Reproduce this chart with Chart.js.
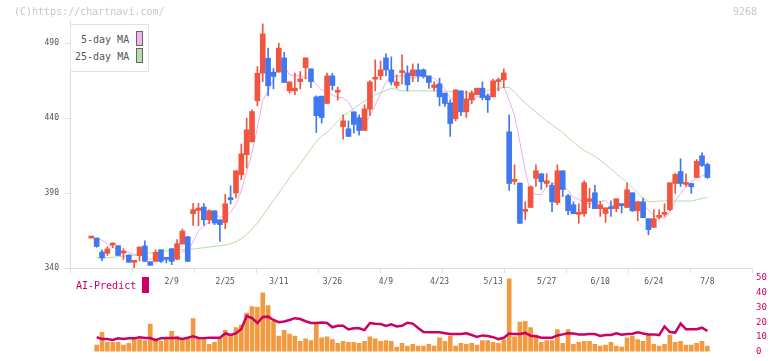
<!DOCTYPE html>
<html>
<head>
<meta charset="utf-8">
<script src="https://cdn.jsdelivr.net/npm/chart.js@4.4.1/dist/chart.umd.min.js"></script>
<style>
html, body { margin: 0; padding: 0; background: #fff; }
#wrap { position: relative; width: 772px; height: 361px; overflow: hidden; font-family: "DejaVu Sans Mono", monospace; }
#wrap canvas { position: absolute; left: 0; top: 0; }
.txt { position: absolute; white-space: nowrap; line-height: 12px; }
.sw { position: absolute; box-sizing: border-box; }
</style>
</head>
<body>
<div id="wrap">
  <canvas id="volChart" width="772" height="361"></canvas>
  <canvas id="mainChart" width="772" height="361"></canvas>
  <div class="txt" style="left:14px;top:6px;font-size:10px;color:#c8c8c8">(C)https://chartnavi.com/</div>
  <div class="txt" style="left:733px;top:6px;font-size:10px;color:#c8c8c8">9268</div>
  <div style="position:absolute;left:70px;top:24px;width:77px;height:46px;border:1px solid #e2e2e2;background:#fff"></div>
  <div class="txt" style="left:81px;top:34px;font-size:10px;color:#555">5-day MA</div>
  <div class="txt" style="left:75px;top:51px;font-size:10px;color:#555">25-day MA</div>
  <div class="sw" style="left:136px;top:31px;width:7px;height:15px;border:1px solid #666;background:#ecb8ec"></div>
  <div class="sw" style="left:136px;top:48px;width:7px;height:15px;border:1px solid #666;background:#bcdcae"></div>
  <div class="txt" style="left:76px;top:280px;font-size:10px;color:#cc0066">AI-Predict</div>
  <div class="sw" style="left:142px;top:277px;width:7px;height:16px;background:#cc0066"></div>
</div>
<script>
// candles, index 0 = first day on the chart
const opens = [360,360,350.7,349.8,355.3,354.9,350,348.7,343.8,348.2,354.7,344.2,344.4,352.2,346.9,352.9,345.8,356,360.9,376.2,
  378.4,380.7,372.2,378.2,372.2,370.4,386.7,390,402.2,415.6,424.2,451.6,470,480,470.7,470.7,480.2,458.2,458.2,464.4,
  473.6,472.9,454.2,454.7,449.8,468.2,457.3,434.2,432.9,444.2,440.2,431.8,446,466,468.2,480.2,472.2,461.8,470.4,470.2,
  468.2,472.2,472.2,468.2,460.4,462.9,456.7,450.2,439.6,458.2,444.2,452.2,455.6,460,454.9,454.2,464.4,465.6,430.9,397.8,
  396.7,377.8,380.4,399.8,402.9,396.4,395.1,383.6,404.9,388.2,382.2,375.8,376.2,384.4,390.2,379.6,376.4,380.9,379.6,382.9,
  380.4,390.2,378.2,384.2,372.9,367.1,373.8,375.8,378.9,396.4,404.4,395.8,396.4,400.4,414.9,409.1];
const highs = [360,360,352.2,354.2,356.7,354.9,352.9,348.7,344.9,354,358.2,344.2,352.2,352.2,346.9,352.9,358.9,366,360.9,383.1,
  383.1,383.1,378.9,378.2,372.2,389.1,394.9,404.9,422.7,440,445.6,474.4,502.9,486.7,473.1,490,484,464.2,470,471.1,
  480.2,472.9,454.9,454.7,470,470,460.7,442.2,438.2,444.2,442.2,448.9,465.1,478.9,478.2,482.9,480.9,468.9,482.2,474.9,
  476.2,476.2,472.9,468.2,464.2,466.7,456.7,452.2,458.9,458.2,458.2,458.2,460,464.2,456.2,466,466.7,472.9,442,408.9,
  396.7,384.2,394.9,408.9,402.9,402.9,396.9,408.9,404.9,389.1,384.2,382.9,398.2,393.1,395.1,384.4,380.2,384.9,386.2,382.9,
  396.9,390.2,384.2,386.7,372.9,378.9,378.9,382.9,396.9,403.1,412.9,402.9,396.4,412.4,416.9,410];
const lows = [360,353.8,344.7,348.4,353.6,348.2,345.6,343.8,339.8,344.7,344.4,341.8,344.4,343.8,343.3,342.2,345.6,356,344.4,368.4,
  368.2,368.4,369.6,368.9,357.8,366.2,382.7,386.7,398.9,406.7,424.2,448.2,464.4,454.9,459.6,470.7,463.8,456.7,455.6,459.6,
  466.2,460.4,430.4,436.7,449.8,458.7,452,426,427.8,430,428.7,431.8,441.8,458.2,465.6,468.2,462.2,460,462.7,458.2,
  464.4,464.4,466.7,459.8,458.2,448.2,447.8,427.8,438.2,441.6,440.4,449.8,455.6,452.2,443.8,454.2,458.2,460.4,391.8,395.8,
  369.8,372.2,380.4,394.4,392.4,394,377.6,382.2,387.6,375.6,376.2,369.8,374.4,380.2,379.6,374.4,370.4,374.4,377.6,376.7,
  380.4,377.6,371.6,373.6,362.2,367.1,372.7,374.4,378.2,389.8,394.4,394.4,389.8,400.4,407.8,399.8];
const closes = [360.3,354.4,346.7,352.7,356.7,348.4,351.1,343.8,344.9,354,344.4,341.8,350.4,344.4,345.8,344.4,356.2,364.7,344.4,378.9,
  380,372.2,378.2,370,368.9,382.9,385.6,404.9,416.2,432.2,444.4,470,496.2,461.6,467.8,486.7,463.8,464.2,460,466.2,
  480.2,464.4,441.6,440.4,468.2,461.8,458.2,438.2,427.8,435.8,431.8,446.2,464.2,466.4,472.2,472.2,464.2,464.2,470.9,462.2,
  472.2,468.2,467.8,463.8,462.2,454.2,449.8,436.4,458.9,444.2,452.9,456.7,460,453.8,452.2,464.9,465.1,470.2,396.4,398.7,
  369.8,378.2,394.2,404.9,397.6,398.2,384.2,404.9,392.4,378.2,376.2,376.9,396.9,386.2,379.6,382.2,380.2,379.6,386.2,381.6,
  392.2,378.2,384.2,373.6,365.6,372.9,375.1,376.9,396.9,402.4,396.4,396.9,394.2,411.1,408.4,400.4];

// moving averages
const ma5 = [null,360,358.5,356,354,351.8,351.1,350.5,349,348.4,347.6,345.8,347.1,347,345.4,345.4,348.2,351.1,351.1,357.7,
  364.8,368,370.7,375.9,373.9,374.4,377.1,382.5,391.7,404.4,416.7,433.5,451.8,458,466,475,475.2,468.8,468.5,468.2,
  466.9,467,462.5,458.6,459,455.3,454,453.4,450.8,444.4,438.4,436,441.2,448.9,456.2,464.2,467.8,467.8,468.7,466.7,
  466.7,467.5,468.3,466.8,466.8,463.2,459.6,453.3,452.3,448.7,448.4,449.8,454.5,453.5,455.1,457.5,459.2,461.2,452,442,
  424,405,390,389.2,388.9,394.6,395.8,398,395.5,391.6,387.2,385.7,384.1,382.9,383.2,384.4,385,381.6,381.6,382,
  384,383.6,384.5,382,378.8,374.9,374.3,372.8,377.5,384.8,389.5,393.9,397.4,400.2,401.4,402.2];
const ma25 = [null,346.7,346.8,347,347.2,347.5,347.8,348.1,348.5,349,349.5,350,350.5,351,351.4,351.8,352,352.2,352.4,352.7,
  353.1,353.5,354,354.4,354.9,355.4,356.2,357.5,359.5,362.5,366,370,375,380,385,390,395,400.5,405,409.5,
  414.5,419.5,424.5,428,430.5,434,438,441.5,444,446.5,449,451.5,453.5,455.5,457,458.5,460,459,458.3,458.2,
  458.2,458.2,458.2,458.2,458.2,458.2,458,457.8,457.3,457,457,457,457.3,457.8,458.5,459.3,460,460.5,460.5,457.5,
  453.5,450,447,444,441,438,435.5,433,430.5,427,424,421,418.5,416.5,414.5,412,409,406,403,400,
  397,393.5,390,386.5,384.3,384.3,384.7,384.7,384.7,384.7,384.7,384.7,384.7,385.5,386.5,387];

// lower panel
const volume = [null,4.4,13.1,6.25,6.25,6.25,4.4,5.6,8.75,8.1,7.5,18.75,8.75,6.9,8.75,13.75,10.6,8.1,8.75,22.5,
  8.75,8.1,5,6.25,9.4,14.4,11.25,16.25,18.1,26.25,30.6,30,40,31.25,20.6,10.6,14.4,11.9,10.6,6.9,
  8.75,7.5,18.75,9.4,10,8.1,5.6,6.9,6.25,6.25,5.6,6.9,10,8.75,6.9,7.5,6.9,3.1,5.6,3.75,
  5,3.75,3.75,5,3.75,9.4,6.9,10.6,3.75,5.6,5,5.6,4.4,7.5,7.5,6.25,5.6,8.1,49.4,10,
  20,20.6,16.25,11.25,6.25,7.5,7.5,15,5.6,15,5,6.25,6.9,6.9,5,3.75,4.4,6.25,3.75,3.1,
  9.4,10.6,8.1,6.9,11.25,5,3.75,5,11.25,6.25,6.9,4.4,4.4,5.6,6.9,3.75];
const aiPredict = [null,9.8,8.5,8.5,7.9,9,8.5,9,9,9.8,9.2,9.2,7.7,9,9.2,9.2,9.2,8.5,9.4,10.4,
  9.2,9,9.4,9.4,9.4,12.3,11.25,12.3,15.4,24.2,22.7,19.4,23.5,23.75,21.5,20,20.4,21.5,22.7,22.1,
  20.6,19.4,19.4,19.8,19.4,16.5,17.5,17.5,15,15.8,15.8,14.6,19.4,19,18.7,17.5,18.5,17.1,17.5,19.6,
  19,16,13.3,13.1,13.1,13.1,12.5,11.9,11.9,11.9,12.5,11.25,10,11,10.6,9.8,8.5,9.4,12.3,11.9,
  11.9,12.7,10.8,10.4,9.4,9.4,9.4,11,11.7,12.5,12.3,11.7,11.7,11.9,11.9,10.6,11.25,11.25,12.5,11.5,
  11.9,12.1,13.1,12.3,11.7,11.7,11.25,17.1,13.3,12.9,19,15.2,15.2,15.2,16.25,14];

// date labels and the candle they sit under
const dateLabels = ['2/9','2/25','3/11','3/26','4/9','4/23','5/13','5/27','6/10','6/24','7/8'];
const dateIndex = [15,25,35,45,55,65,75,85,95,105,115];
const priceTicks = [340,390,440,490];
const volTicks = [0,10,20,30,40,50];

const X_MIN = -3.98, X_MAX = 123.33;
const UP = '#f2553f', DOWN = '#4079ef';
const monoFont = { family: 'DejaVu Sans Mono', size: 8 };

var candleColors = closes.map((c, i) => c >= opens[i] ? UP : DOWN);
var wickData = lows.map((l, i) => ({ x: i, y: [l, highs[i]] }));
var bodyData = opens.map((o, i) => ({ x: i, y: [o, closes[i]] }));
var ma5Data = ma5.map((v, i) => ({ x: i, y: v }));
var ma25Data = ma25.map((v, i) => ({ x: i, y: v }));

// evenly spaced tick marks along the bottom axis
var axisMarks = [];
for (var k = 0; k <= 11; k++) axisMarks.push(X_MIN + k * (X_MAX - X_MIN) / 11);

new Chart(document.getElementById('mainChart'), {
  type: 'bar',
  data: {
    datasets: [
      { type: 'line', data: ma25Data, borderColor: '#b6dca8', borderWidth: 1, pointRadius: 0, order: 5 },
      { type: 'line', data: ma5Data, borderColor: '#e8b0e8', borderWidth: 1, pointRadius: 0, order: 4 },
      { data: wickData, backgroundColor: candleColors, barThickness: 1, grouped: false, order: 3 },
      { data: bodyData, backgroundColor: candleColors, barThickness: 5, grouped: false, minBarLength: 2, order: 2 }
    ]
  },
  options: {
    responsive: false,
    animation: false,
    layout: { padding: { top: 20, right: 20, bottom: 68, left: 0 } },
    plugins: { legend: { display: false }, tooltip: { enabled: false } },
    scales: {
      x: {
        type: 'linear', min: X_MIN, max: X_MAX, offset: false, weight: 0,
        afterBuildTicks: s => { s.ticks = axisMarks.map(v => ({ value: v })); },
        afterFit: s => { s.height = 5; },
        ticks: { display: false },
        grid: { drawOnChartArea: false, tickLength: 5, color: '#dddddd', offset: false },
        border: { color: '#dddddd' }
      },
      xd: {
        type: 'linear', position: 'bottom', min: X_MIN, max: X_MAX, offset: false, weight: 1,
        afterBuildTicks: s => { s.ticks = dateIndex.map(v => ({ value: v })); },
        afterFit: s => { s.height = 20; },
        ticks: { autoSkip: false, maxRotation: 0, padding: 4, color: '#555', font: monoFont,
          callback: (v, i) => dateLabels[i] },
        grid: { display: false, drawTicks: false },
        border: { display: false }
      },
      y: {
        min: 340, max: 505.5,
        afterBuildTicks: s => { s.ticks = priceTicks.map(v => ({ value: v })); },
        afterFit: s => { s.width = 70; },
        ticks: { padding: 6, color: '#555', font: monoFont },
        grid: { drawOnChartArea: false, tickLength: 5, color: '#dddddd' },
        border: { color: '#dddddd' }
      }
    }
  }
});

new Chart(document.getElementById('volChart'), {
  type: 'bar',
  data: {
    datasets: [
      { type: 'line', data: aiPredict.map((v, i) => ({ x: i, y: v })), borderColor: '#cc0066', borderWidth: 2.5,
        pointRadius: 0, order: 0 },
      { data: volume.map((v, i) => ({ x: i, y: v })), backgroundColor: '#f29a40', barThickness: 4, order: 1 }
    ]
  },
  options: {
    responsive: false,
    animation: false,
    layout: { padding: { top: 278, right: 0, bottom: 3, left: 70 } },
    plugins: { legend: { display: false }, tooltip: { enabled: false } },
    scales: {
      x: { type: 'linear', min: X_MIN, max: X_MAX, offset: false, display: false },
      y: {
        position: 'right', min: 0, max: 50,
        afterBuildTicks: s => { s.ticks = volTicks.map(v => ({ value: v })); },
        afterFit: s => { s.width = 20; },
        ticks: { padding: 4, color: '#cc0066', font: { family: 'DejaVu Sans Mono', size: 9 } },
        grid: { display: false, drawTicks: false },
        border: { display: false }
      }
    }
  }
});
</script>
</body>
</html>
